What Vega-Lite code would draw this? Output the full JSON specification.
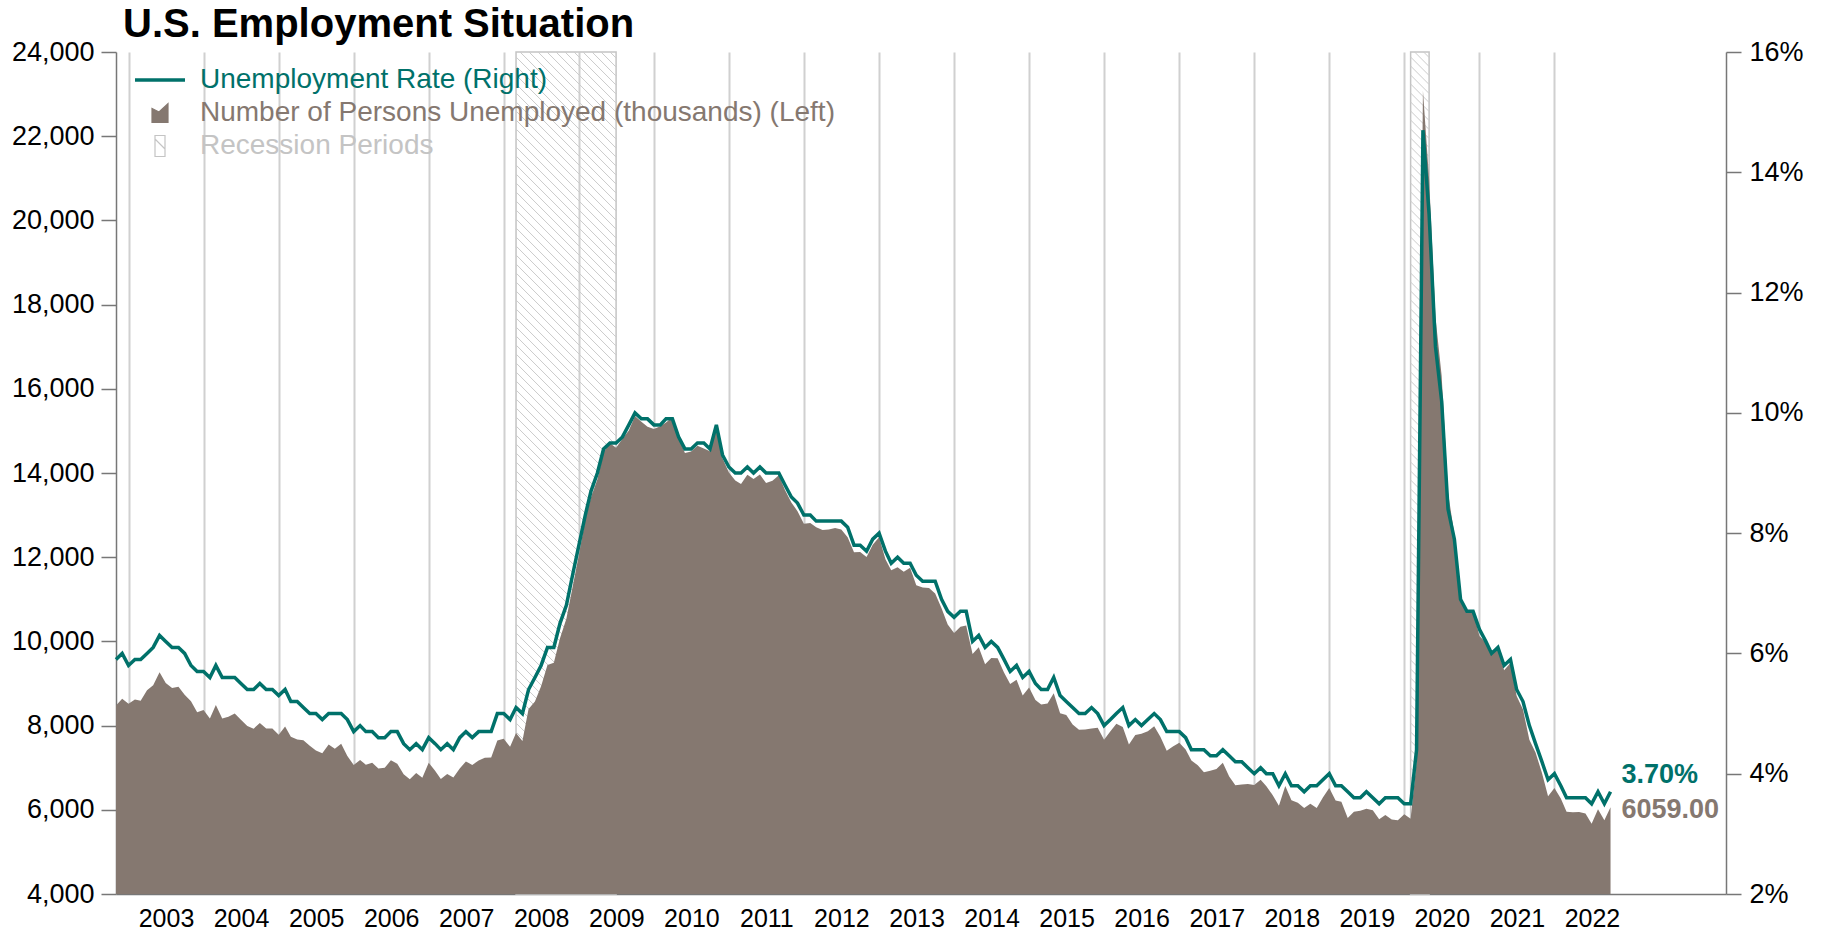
{
  "$schema": "https://vega.github.io/schema/vega-lite/v6.json",
  "width": 1610,
  "height": 842,
  "autosize": {"type": "none"},
  "padding": {"left": 116, "top": 52, "right": 97, "bottom": 38},
  "background": "white",
  "title": {"text": "U.S. Employment Situation", "anchor": "start", "frame": "group", "fontSize": 40, "fontWeight": "bold", "font": "Liberation Sans", "color": "#000000", "dx": 7, "offset": -7},
  "datasets": {
    "recessions": [
      {"start": "2008-03-01", "end": "2009-07-01"},
      {"start": "2020-02-01", "end": "2020-05-01"}
    ],
    "jobs": [
      {"date":"2002-11","rate":0.059,"unemployed":8480},{"date":"2002-12","rate":0.060,"unemployed":8640},
      {"date":"2003-01","rate":0.058,"unemployed":8520},{"date":"2003-02","rate":0.059,"unemployed":8618},{"date":"2003-03","rate":0.059,"unemployed":8588},{"date":"2003-04","rate":0.060,"unemployed":8842},{"date":"2003-05","rate":0.061,"unemployed":8957},{"date":"2003-06","rate":0.063,"unemployed":9266},{"date":"2003-07","rate":0.062,"unemployed":9011},{"date":"2003-08","rate":0.061,"unemployed":8896},{"date":"2003-09","rate":0.061,"unemployed":8921},{"date":"2003-10","rate":0.060,"unemployed":8732},{"date":"2003-11","rate":0.058,"unemployed":8576},{"date":"2003-12","rate":0.057,"unemployed":8317},
      {"date":"2004-01","rate":0.057,"unemployed":8370},{"date":"2004-02","rate":0.056,"unemployed":8167},{"date":"2004-03","rate":0.058,"unemployed":8491},{"date":"2004-04","rate":0.056,"unemployed":8170},{"date":"2004-05","rate":0.056,"unemployed":8212},{"date":"2004-06","rate":0.056,"unemployed":8286},{"date":"2004-07","rate":0.055,"unemployed":8136},{"date":"2004-08","rate":0.054,"unemployed":7990},{"date":"2004-09","rate":0.054,"unemployed":7927},{"date":"2004-10","rate":0.055,"unemployed":8061},{"date":"2004-11","rate":0.054,"unemployed":7932},{"date":"2004-12","rate":0.054,"unemployed":7934},
      {"date":"2005-01","rate":0.053,"unemployed":7784},{"date":"2005-02","rate":0.054,"unemployed":7980},{"date":"2005-03","rate":0.052,"unemployed":7737},{"date":"2005-04","rate":0.052,"unemployed":7672},{"date":"2005-05","rate":0.051,"unemployed":7651},{"date":"2005-06","rate":0.050,"unemployed":7524},{"date":"2005-07","rate":0.050,"unemployed":7406},{"date":"2005-08","rate":0.049,"unemployed":7345},{"date":"2005-09","rate":0.050,"unemployed":7553},{"date":"2005-10","rate":0.050,"unemployed":7453},{"date":"2005-11","rate":0.050,"unemployed":7566},{"date":"2005-12","rate":0.049,"unemployed":7279},
      {"date":"2006-01","rate":0.047,"unemployed":7064},{"date":"2006-02","rate":0.048,"unemployed":7184},{"date":"2006-03","rate":0.047,"unemployed":7072},{"date":"2006-04","rate":0.047,"unemployed":7120},{"date":"2006-05","rate":0.046,"unemployed":6980},{"date":"2006-06","rate":0.046,"unemployed":7001},{"date":"2006-07","rate":0.047,"unemployed":7175},{"date":"2006-08","rate":0.047,"unemployed":7091},{"date":"2006-09","rate":0.045,"unemployed":6847},{"date":"2006-10","rate":0.044,"unemployed":6727},{"date":"2006-11","rate":0.045,"unemployed":6872},{"date":"2006-12","rate":0.044,"unemployed":6762},
      {"date":"2007-01","rate":0.046,"unemployed":7116},{"date":"2007-02","rate":0.045,"unemployed":6927},{"date":"2007-03","rate":0.044,"unemployed":6731},{"date":"2007-04","rate":0.045,"unemployed":6850},{"date":"2007-05","rate":0.044,"unemployed":6766},{"date":"2007-06","rate":0.046,"unemployed":6979},{"date":"2007-07","rate":0.047,"unemployed":7149},{"date":"2007-08","rate":0.046,"unemployed":7067},{"date":"2007-09","rate":0.047,"unemployed":7170},{"date":"2007-10","rate":0.047,"unemployed":7237},{"date":"2007-11","rate":0.047,"unemployed":7240},{"date":"2007-12","rate":0.050,"unemployed":7645},
      {"date":"2008-01","rate":0.050,"unemployed":7685},{"date":"2008-02","rate":0.049,"unemployed":7497},{"date":"2008-03","rate":0.051,"unemployed":7822},{"date":"2008-04","rate":0.050,"unemployed":7637},{"date":"2008-05","rate":0.054,"unemployed":8395},{"date":"2008-06","rate":0.056,"unemployed":8575},{"date":"2008-07","rate":0.058,"unemployed":8937},{"date":"2008-08","rate":0.061,"unemployed":9438},{"date":"2008-09","rate":0.061,"unemployed":9494},{"date":"2008-10","rate":0.065,"unemployed":10074},{"date":"2008-11","rate":0.068,"unemployed":10538},{"date":"2008-12","rate":0.073,"unemployed":11286},
      {"date":"2009-01","rate":0.078,"unemployed":12058},{"date":"2009-02","rate":0.083,"unemployed":12898},{"date":"2009-03","rate":0.087,"unemployed":13426},{"date":"2009-04","rate":0.090,"unemployed":13853},{"date":"2009-05","rate":0.094,"unemployed":14499},{"date":"2009-06","rate":0.095,"unemployed":14707},{"date":"2009-07","rate":0.095,"unemployed":14601},{"date":"2009-08","rate":0.096,"unemployed":14814},{"date":"2009-09","rate":0.098,"unemployed":15009},{"date":"2009-10","rate":0.100,"unemployed":15352},{"date":"2009-11","rate":0.099,"unemployed":15219},{"date":"2009-12","rate":0.099,"unemployed":15098},
      {"date":"2010-01","rate":0.098,"unemployed":15046},{"date":"2010-02","rate":0.098,"unemployed":15113},{"date":"2010-03","rate":0.099,"unemployed":15202},{"date":"2010-04","rate":0.099,"unemployed":15325},{"date":"2010-05","rate":0.096,"unemployed":14849},{"date":"2010-06","rate":0.094,"unemployed":14474},{"date":"2010-07","rate":0.094,"unemployed":14512},{"date":"2010-08","rate":0.095,"unemployed":14648},{"date":"2010-09","rate":0.095,"unemployed":14579},{"date":"2010-10","rate":0.094,"unemployed":14516},{"date":"2010-11","rate":0.098,"unemployed":15081},{"date":"2010-12","rate":0.093,"unemployed":14348},
      {"date":"2011-01","rate":0.091,"unemployed":14013},{"date":"2011-02","rate":0.090,"unemployed":13820},{"date":"2011-03","rate":0.090,"unemployed":13737},{"date":"2011-04","rate":0.091,"unemployed":13957},{"date":"2011-05","rate":0.090,"unemployed":13855},{"date":"2011-06","rate":0.091,"unemployed":13962},{"date":"2011-07","rate":0.090,"unemployed":13763},{"date":"2011-08","rate":0.090,"unemployed":13818},{"date":"2011-09","rate":0.090,"unemployed":13948},{"date":"2011-10","rate":0.088,"unemployed":13594},{"date":"2011-11","rate":0.086,"unemployed":13302},{"date":"2011-12","rate":0.085,"unemployed":13093},
      {"date":"2012-01","rate":0.083,"unemployed":12797},{"date":"2012-02","rate":0.083,"unemployed":12813},{"date":"2012-03","rate":0.082,"unemployed":12713},{"date":"2012-04","rate":0.082,"unemployed":12646},{"date":"2012-05","rate":0.082,"unemployed":12660},{"date":"2012-06","rate":0.082,"unemployed":12692},{"date":"2012-07","rate":0.082,"unemployed":12656},{"date":"2012-08","rate":0.081,"unemployed":12471},{"date":"2012-09","rate":0.078,"unemployed":12115},{"date":"2012-10","rate":0.078,"unemployed":12124},{"date":"2012-11","rate":0.077,"unemployed":12005},{"date":"2012-12","rate":0.079,"unemployed":12298},
      {"date":"2013-01","rate":0.080,"unemployed":12471},{"date":"2013-02","rate":0.077,"unemployed":11950},{"date":"2013-03","rate":0.075,"unemployed":11689},{"date":"2013-04","rate":0.076,"unemployed":11760},{"date":"2013-05","rate":0.075,"unemployed":11654},{"date":"2013-06","rate":0.075,"unemployed":11751},{"date":"2013-07","rate":0.073,"unemployed":11335},{"date":"2013-08","rate":0.072,"unemployed":11279},{"date":"2013-09","rate":0.072,"unemployed":11270},{"date":"2013-10","rate":0.072,"unemployed":11136},{"date":"2013-11","rate":0.069,"unemployed":10787},{"date":"2013-12","rate":0.067,"unemployed":10404},
      {"date":"2014-01","rate":0.066,"unemployed":10202},{"date":"2014-02","rate":0.067,"unemployed":10349},{"date":"2014-03","rate":0.067,"unemployed":10380},{"date":"2014-04","rate":0.062,"unemployed":9702},{"date":"2014-05","rate":0.063,"unemployed":9859},{"date":"2014-06","rate":0.061,"unemployed":9460},{"date":"2014-07","rate":0.062,"unemployed":9608},{"date":"2014-08","rate":0.061,"unemployed":9599},{"date":"2014-09","rate":0.059,"unemployed":9262},{"date":"2014-10","rate":0.057,"unemployed":8990},{"date":"2014-11","rate":0.058,"unemployed":9090},{"date":"2014-12","rate":0.056,"unemployed":8717},
      {"date":"2015-01","rate":0.057,"unemployed":8903},{"date":"2015-02","rate":0.055,"unemployed":8610},{"date":"2015-03","rate":0.054,"unemployed":8504},{"date":"2015-04","rate":0.054,"unemployed":8526},{"date":"2015-05","rate":0.056,"unemployed":8769},{"date":"2015-06","rate":0.053,"unemployed":8296},{"date":"2015-07","rate":0.052,"unemployed":8249},{"date":"2015-08","rate":0.051,"unemployed":8029},{"date":"2015-09","rate":0.050,"unemployed":7904},{"date":"2015-10","rate":0.050,"unemployed":7910},{"date":"2015-11","rate":0.051,"unemployed":7929},{"date":"2015-12","rate":0.050,"unemployed":7946},
      {"date":"2016-01","rate":0.048,"unemployed":7663},{"date":"2016-02","rate":0.049,"unemployed":7868},{"date":"2016-03","rate":0.050,"unemployed":8042},{"date":"2016-04","rate":0.051,"unemployed":7969},{"date":"2016-05","rate":0.048,"unemployed":7549},{"date":"2016-06","rate":0.049,"unemployed":7779},{"date":"2016-07","rate":0.048,"unemployed":7806},{"date":"2016-08","rate":0.049,"unemployed":7867},{"date":"2016-09","rate":0.050,"unemployed":7983},{"date":"2016-10","rate":0.049,"unemployed":7735},{"date":"2016-11","rate":0.047,"unemployed":7402},{"date":"2016-12","rate":0.047,"unemployed":7502},
      {"date":"2017-01","rate":0.047,"unemployed":7592},{"date":"2017-02","rate":0.046,"unemployed":7435},{"date":"2017-03","rate":0.044,"unemployed":7170},{"date":"2017-04","rate":0.044,"unemployed":7059},{"date":"2017-05","rate":0.044,"unemployed":6889},{"date":"2017-06","rate":0.043,"unemployed":6929},{"date":"2017-07","rate":0.043,"unemployed":6972},{"date":"2017-08","rate":0.044,"unemployed":7119},{"date":"2017-09","rate":0.043,"unemployed":6793},{"date":"2017-10","rate":0.042,"unemployed":6583},{"date":"2017-11","rate":0.042,"unemployed":6600},{"date":"2017-12","rate":0.041,"unemployed":6613},
      {"date":"2018-01","rate":0.040,"unemployed":6589},{"date":"2018-02","rate":0.041,"unemployed":6712},{"date":"2018-03","rate":0.040,"unemployed":6561},{"date":"2018-04","rate":0.040,"unemployed":6347},{"date":"2018-05","rate":0.038,"unemployed":6096},{"date":"2018-06","rate":0.040,"unemployed":6564},{"date":"2018-07","rate":0.038,"unemployed":6229},{"date":"2018-08","rate":0.038,"unemployed":6170},{"date":"2018-09","rate":0.037,"unemployed":6043},{"date":"2018-10","rate":0.038,"unemployed":6146},{"date":"2018-11","rate":0.038,"unemployed":6044},{"date":"2018-12","rate":0.039,"unemployed":6294},
      {"date":"2019-01","rate":0.040,"unemployed":6516},{"date":"2019-02","rate":0.038,"unemployed":6223},{"date":"2019-03","rate":0.038,"unemployed":6193},{"date":"2019-04","rate":0.037,"unemployed":5807},{"date":"2019-05","rate":0.036,"unemployed":5956},{"date":"2019-06","rate":0.036,"unemployed":5979},{"date":"2019-07","rate":0.037,"unemployed":6022},{"date":"2019-08","rate":0.036,"unemployed":5992},{"date":"2019-09","rate":0.035,"unemployed":5777},{"date":"2019-10","rate":0.036,"unemployed":5874},{"date":"2019-11","rate":0.036,"unemployed":5769},{"date":"2019-12","rate":0.036,"unemployed":5753},
      {"date":"2020-01","rate":0.035,"unemployed":5892},{"date":"2020-02","rate":0.035,"unemployed":5787},{"date":"2020-03","rate":0.044,"unemployed":7140},{"date":"2020-04","rate":0.147,"unemployed":23078},{"date":"2020-05","rate":0.133,"unemployed":20985},{"date":"2020-06","rate":0.111,"unemployed":17697},{"date":"2020-07","rate":0.102,"unemployed":16308},{"date":"2020-08","rate":0.084,"unemployed":13542},{"date":"2020-09","rate":0.079,"unemployed":12535},{"date":"2020-10","rate":0.069,"unemployed":11049},{"date":"2020-11","rate":0.067,"unemployed":10728},{"date":"2020-12","rate":0.067,"unemployed":10736},
      {"date":"2021-01","rate":0.064,"unemployed":10130},{"date":"2021-02","rate":0.062,"unemployed":9972},{"date":"2021-03","rate":0.060,"unemployed":9710},{"date":"2021-04","rate":0.061,"unemployed":9812},{"date":"2021-05","rate":0.058,"unemployed":9316},{"date":"2021-06","rate":0.059,"unemployed":9484},{"date":"2021-07","rate":0.054,"unemployed":8702},{"date":"2021-08","rate":0.052,"unemployed":8384},{"date":"2021-09","rate":0.048,"unemployed":7666},{"date":"2021-10","rate":0.045,"unemployed":7360},{"date":"2021-11","rate":0.042,"unemployed":6879},{"date":"2021-12","rate":0.039,"unemployed":6319},
      {"date":"2022-01","rate":0.040,"unemployed":6516},{"date":"2022-02","rate":0.038,"unemployed":6270},{"date":"2022-03","rate":0.036,"unemployed":5952},{"date":"2022-04","rate":0.036,"unemployed":5941},{"date":"2022-05","rate":0.036,"unemployed":5950},{"date":"2022-06","rate":0.036,"unemployed":5912},{"date":"2022-07","rate":0.035,"unemployed":5670},{"date":"2022-08","rate":0.037,"unemployed":6014},{"date":"2022-09","rate":0.035,"unemployed":5753},{"date":"2022-10","rate":0.037,"unemployed":6059}
    ]
  },
  "layer": [
    {
      "layer": [
        {
          "data": {"name": "recessions"},
          "mark": {"type": "rect", "filled": false, "strokeWidth": 1.5},
          "encoding": {
            "x": {
              "field": "start", "type": "temporal", "title": null,
              "scale": {"type": "utc", "domain": [{"year": 2002, "month": 11, "date": 1, "utc": true}, {"year": 2024, "month": 4, "date": 15, "utc": true}]},
              "axis": {
                "values": [
                  {"year": 2003, "month": 1, "date": 1, "utc": true},{"year": 2004, "month": 1, "date": 1, "utc": true},{"year": 2005, "month": 1, "date": 1, "utc": true},{"year": 2006, "month": 1, "date": 1, "utc": true},{"year": 2007, "month": 1, "date": 1, "utc": true},
                  {"year": 2008, "month": 1, "date": 1, "utc": true},{"year": 2009, "month": 1, "date": 1, "utc": true},{"year": 2010, "month": 1, "date": 1, "utc": true},{"year": 2011, "month": 1, "date": 1, "utc": true},{"year": 2012, "month": 1, "date": 1, "utc": true},
                  {"year": 2013, "month": 1, "date": 1, "utc": true},{"year": 2014, "month": 1, "date": 1, "utc": true},{"year": 2015, "month": 1, "date": 1, "utc": true},{"year": 2016, "month": 1, "date": 1, "utc": true},{"year": 2017, "month": 1, "date": 1, "utc": true},
                  {"year": 2018, "month": 1, "date": 1, "utc": true},{"year": 2019, "month": 1, "date": 1, "utc": true},{"year": 2020, "month": 1, "date": 1, "utc": true},{"year": 2021, "month": 1, "date": 1, "utc": true},{"year": 2022, "month": 1, "date": 1, "utc": true}
                ],
                "format": "%Y", "labelOffset": 37.5, "ticks": false, "labelPadding": 12,
                "labelFontSize": 25, "labelFont": "Liberation Sans", "labelColor": "#000000",
                "labelFlush": false, "labelOverlap": false, "labelBound": false,
                "grid": true, "gridColor": "#d0d0d0", "gridWidth": 2,
                "domainColor": "#777777", "domainWidth": 1.5, "title": null
              }
            },
            "x2": {"field": "end"},
            "y": {
              "datum": 24000, "type": "quantitative", "title": null,
              "scale": {"domain": [4000, 24000], "nice": false, "zero": false},
              "axis": {
                "values": [4000, 6000, 8000, 10000, 12000, 14000, 16000, 18000, 20000, 22000, 24000],
                "format": ",d", "tickSize": 15, "tickColor": "#777777", "tickWidth": 1.5, "labelPadding": 7,
                "labelFontSize": 27, "labelFont": "Liberation Sans", "labelColor": "#000000",
                "domainColor": "#777777", "domainWidth": 1.5, "grid": false, "title": null, "labelFlush": false
              }
            },
            "y2": {"datum": 4000},
            "color": {
              "datum": "Recession Periods",
              "scale": {
                "domain": ["Unemployment Rate (Right)", "Number of Persons Unemployed (thousands) (Left)", "Recession Periods"],
                "range": ["#00716a", "#857870", "#c4c4c4"]
              },
              "legend": {
                "orient": "none", "legendX": 30, "legendY": 14, "direction": "vertical",
                "title": null, "padding": 0, "labelFontSize": 28, "labelFont": "Liberation Sans",
                "labelLimit": 1000, "symbolSize": 400, "rowPadding": 5, "labelOffset": 26, "symbolStrokeWidth": 1.5,
                "encode": {
                  "symbols": {"update": {
                    "shape": {"signal": "datum.value === 'Unemployment Rate (Right)' ? 'M-2.5,0H2.5' : datum.value === 'Recession Periods' ? 'M-0.5,-1.05H0.5V1.05H-0.5ZM-0.5,-0.7L0.5,0.3' : 'M-0.8,0.93V-0.45L-0.1,-0.1L0.8,-0.93V0.93Z'"},
                    "fill": {"signal": "datum.value === 'Number of Persons Unemployed (thousands) (Left)' ? '#857870' : 'transparent'"},
                    "fillOpacity": {"signal": "datum.value === 'Number of Persons Unemployed (thousands) (Left)' ? 1 : 0"},
                    "stroke": {"signal": "datum.value === 'Unemployment Rate (Right)' ? '#00716a' : datum.value === 'Recession Periods' ? '#c4c4c4' : 'transparent'"},
                    "strokeWidth": {"signal": "datum.value === 'Unemployment Rate (Right)' ? 3.5 : 1.2"},
                    "opacity": {"value": 1}
                  }},
                  "labels": {"update": {
                    "fill": {"signal": "datum.value === 'Unemployment Rate (Right)' ? '#00716a' : datum.value === 'Recession Periods' ? '#c4c4c4' : '#857870'"}
                  }}
                }
              }
            }
          }
        },
        {
          "data": {"name": "recessions"},
          "mark": {"type": "point", "filled": false, "size": 4, "stroke": "#cccccc", "strokeWidth": 1, "opacity": 1, "clip": true},
          "encoding": {
            "x": {"field": "start", "type": "temporal", "title": null},
            "y": {"datum": 24000, "type": "quantitative", "title": null},
            "shape": {
              "condition": {"test": "utcyear(datum.start) < 2015", "value": "M4,0l96,96M13,0l87,87M22,0l78,78M31,0l69,69M40,0l60,60M49,0l51,51M58,0l42,42M67,0l33,33M76,0l24,24M85,0l15,15M94,0l6,6M0,5l100,100m-100,-91l100,100m-100,-91l100,100m-100,-91l100,100m-100,-91l100,100m-100,-91l100,100m-100,-91l100,100m-100,-91l100,100m-100,-91l100,100m-100,-91l100,100m-100,-91l100,100m-100,-91l100,100m-100,-91l100,100m-100,-91l100,100m-100,-91l100,100m-100,-91l100,100m-100,-91l100,100m-100,-91l100,100m-100,-91l100,100m-100,-91l100,100m-100,-91l100,100m-100,-91l100,100m-100,-91l100,100m-100,-91l100,100m-100,-91l100,100m-100,-91l100,100m-100,-91l100,100m-100,-91l100,100m-100,-91l100,100m-100,-91l100,100m-100,-91l100,100m-100,-91l100,100m-100,-91l100,100m-100,-91l100,100m-100,-91l100,100m-100,-91l100,100m-100,-91l100,100m-100,-91l100,100m-100,-91l100,100m-100,-91l100,100m-100,-91l100,100m-100,-91l100,100m-100,-91l100,100m-100,-91l100,100m-100,-91l100,100m-100,-91l100,100m-100,-91l100,100m-100,-91l100,100m-100,-91l100,100m-100,-91l100,100m-100,-91l100,100m-100,-91l100,100m-100,-91l100,100m-100,-91l100,100m-100,-91l100,100m-100,-91l100,100m-100,-91l100,100m-100,-91l100,100m-100,-91l100,100m-100,-91l100,100m-100,-91l100,100m-100,-91l100,100m-100,-91l100,100m-100,-91l100,100m-100,-91l100,100m-100,-91l100,100m-100,-91l100,100m-100,-91l100,100m-100,-91l100,100m-100,-91l100,100m-100,-91l100,100m-100,-91l100,100m-100,-91l100,100m-100,-91l100,100m-100,-91l100,100m-100,-91l100,100m-100,-91l100,100m-100,-91l100,100m-100,-91l100,100m-100,-91l100,100m-100,-91l100,100m-100,-91l100,100m-100,-91l100,100m-100,-91l100,100m-100,-91l100,100m-100,-91l100,100m-100,-91l100,100m-100,-91l100,100m-100,-91l100,100m-100,-91l100,100m-100,-91l100,100m-100,-91l100,100m-100,-91l100,100m-100,-91l100,100m-100,-91l100,100m-100,-91l100,100m-100,-91l100,100m-100,-91l100,100m-100,-91l100,100m-100,-91l100,100m-100,-91l100,100m-100,-91l100,100"},
              "value": "M4,0l14.5,14.5M13,0l5.5,5.5M0,5l18.5,18.5m-18.5,-9.5l18.5,18.5m-18.5,-9.5l18.5,18.5m-18.5,-9.5l18.5,18.5m-18.5,-9.5l18.5,18.5m-18.5,-9.5l18.5,18.5m-18.5,-9.5l18.5,18.5m-18.5,-9.5l18.5,18.5m-18.5,-9.5l18.5,18.5m-18.5,-9.5l18.5,18.5m-18.5,-9.5l18.5,18.5m-18.5,-9.5l18.5,18.5m-18.5,-9.5l18.5,18.5m-18.5,-9.5l18.5,18.5m-18.5,-9.5l18.5,18.5m-18.5,-9.5l18.5,18.5m-18.5,-9.5l18.5,18.5m-18.5,-9.5l18.5,18.5m-18.5,-9.5l18.5,18.5m-18.5,-9.5l18.5,18.5m-18.5,-9.5l18.5,18.5m-18.5,-9.5l18.5,18.5m-18.5,-9.5l18.5,18.5m-18.5,-9.5l18.5,18.5m-18.5,-9.5l18.5,18.5m-18.5,-9.5l18.5,18.5m-18.5,-9.5l18.5,18.5m-18.5,-9.5l18.5,18.5m-18.5,-9.5l18.5,18.5m-18.5,-9.5l18.5,18.5m-18.5,-9.5l18.5,18.5m-18.5,-9.5l18.5,18.5m-18.5,-9.5l18.5,18.5m-18.5,-9.5l18.5,18.5m-18.5,-9.5l18.5,18.5m-18.5,-9.5l18.5,18.5m-18.5,-9.5l18.5,18.5m-18.5,-9.5l18.5,18.5m-18.5,-9.5l18.5,18.5m-18.5,-9.5l18.5,18.5m-18.5,-9.5l18.5,18.5m-18.5,-9.5l18.5,18.5m-18.5,-9.5l18.5,18.5m-18.5,-9.5l18.5,18.5m-18.5,-9.5l18.5,18.5m-18.5,-9.5l18.5,18.5m-18.5,-9.5l18.5,18.5m-18.5,-9.5l18.5,18.5m-18.5,-9.5l18.5,18.5m-18.5,-9.5l18.5,18.5m-18.5,-9.5l18.5,18.5m-18.5,-9.5l18.5,18.5m-18.5,-9.5l18.5,18.5m-18.5,-9.5l18.5,18.5m-18.5,-9.5l18.5,18.5m-18.5,-9.5l18.5,18.5m-18.5,-9.5l18.5,18.5m-18.5,-9.5l18.5,18.5m-18.5,-9.5l18.5,18.5m-18.5,-9.5l18.5,18.5m-18.5,-9.5l18.5,18.5m-18.5,-9.5l18.5,18.5m-18.5,-9.5l18.5,18.5m-18.5,-9.5l18.5,18.5m-18.5,-9.5l18.5,18.5m-18.5,-9.5l18.5,18.5m-18.5,-9.5l18.5,18.5m-18.5,-9.5l18.5,18.5m-18.5,-9.5l18.5,18.5m-18.5,-9.5l18.5,18.5m-18.5,-9.5l18.5,18.5m-18.5,-9.5l18.5,18.5m-18.5,-9.5l18.5,18.5m-18.5,-9.5l18.5,18.5m-18.5,-9.5l18.5,18.5m-18.5,-9.5l18.5,18.5m-18.5,-9.5l18.5,18.5m-18.5,-9.5l18.5,18.5m-18.5,-9.5l18.5,18.5m-18.5,-9.5l18.5,18.5m-18.5,-9.5l18.5,18.5m-18.5,-9.5l18.5,18.5m-18.5,-9.5l18.5,18.5m-18.5,-9.5l18.5,18.5m-18.5,-9.5l18.5,18.5m-18.5,-9.5l18.5,18.5m-18.5,-9.5l18.5,18.5m-18.5,-9.5l18.5,18.5m-18.5,-9.5l18.5,18.5m-18.5,-9.5l18.5,18.5m-18.5,-9.5l18.5,18.5"
            }
          }
        },
        {
          "data": {"name": "jobs"},
          "mark": {"type": "area"},
          "encoding": {
            "x": {"field": "date", "type": "temporal", "title": null},
            "y": {"field": "unemployed", "type": "quantitative", "title": null},
            "y2": {"datum": 4000},
            "color": {"datum": "Number of Persons Unemployed (thousands) (Left)"}
          }
        },
        {
          "data": {"name": "jobs"},
          "transform": [{"filter": "time(datum.date) === utc(2022, 9, 1)"}],
          "mark": {"type": "text", "align": "left", "baseline": "middle", "dx": 11, "dy": 3, "fontSize": 27, "fontWeight": "bold", "font": "Liberation Sans", "color": "#857870"},
          "encoding": {
            "x": {"field": "date", "type": "temporal", "title": null},
            "y": {"field": "unemployed", "type": "quantitative", "title": null},
            "text": {"field": "unemployed", "type": "quantitative", "format": ".2f"}
          }
        }
      ]
    },
    {
      "layer": [
        {
          "data": {"name": "jobs"},
          "mark": {"type": "line", "strokeWidth": 3.5},
          "encoding": {
            "x": {"field": "date", "type": "temporal", "title": null},
            "y": {
              "field": "rate", "type": "quantitative", "title": null,
              "scale": {"domain": [0.02, 0.16], "nice": false, "zero": false},
              "axis": {
                "orient": "right",
                "values": [0.02, 0.04, 0.06, 0.08, 0.10, 0.12, 0.14, 0.16],
                "format": ".0%", "tickSize": 15, "tickColor": "#777777", "tickWidth": 1.5, "labelPadding": 8,
                "labelFontSize": 27, "labelFont": "Liberation Sans", "labelColor": "#000000",
                "domainColor": "#777777", "domainWidth": 1.5, "grid": false, "title": null, "labelFlush": false
              }
            },
            "color": {"datum": "Unemployment Rate (Right)"}
          }
        },
        {
          "data": {"name": "jobs"},
          "transform": [{"filter": "time(datum.date) === utc(2022, 9, 1)"}],
          "mark": {"type": "text", "align": "left", "baseline": "middle", "dx": 11, "dy": -17, "fontSize": 27, "fontWeight": "bold", "font": "Liberation Sans", "color": "#00716a"},
          "encoding": {
            "x": {"field": "date", "type": "temporal", "title": null},
            "y": {"field": "rate", "type": "quantitative", "title": null},
            "text": {"field": "rate", "type": "quantitative", "format": ".2%"}
          }
        }
      ]
    }
  ],
  "resolve": {"scale": {"y": "independent"}},
  "config": {
    "view": {"stroke": null},
    "font": "Liberation Sans"
  }
}
